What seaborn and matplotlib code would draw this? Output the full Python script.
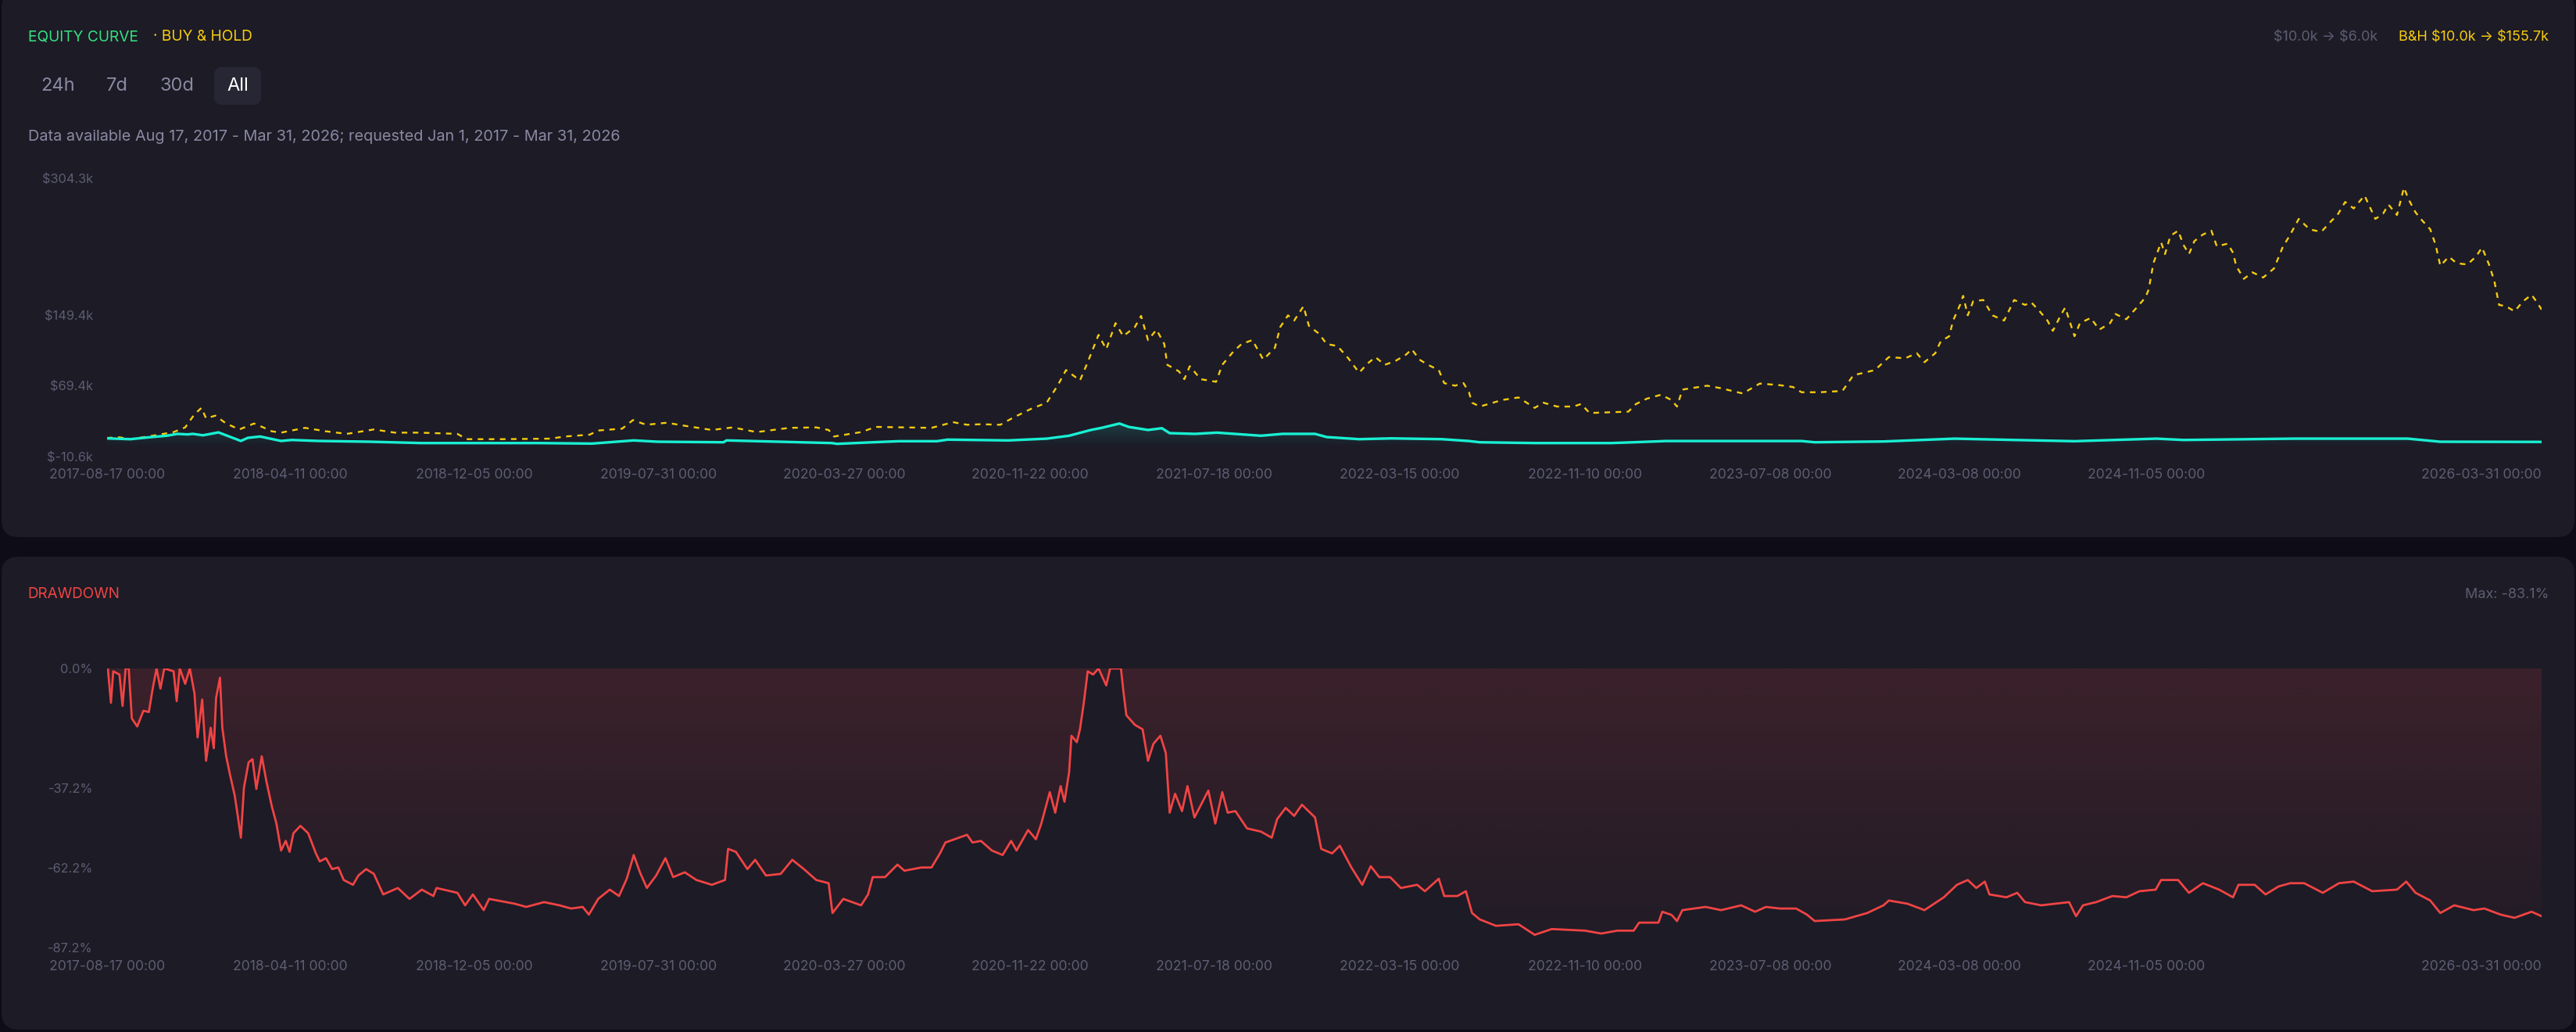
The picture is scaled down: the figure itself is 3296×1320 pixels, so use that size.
import numpy as np
import pandas as pd
import matplotlib
matplotlib.use("Agg")
import matplotlib.pyplot as plt
import matplotlib.dates as mdates
from matplotlib.colors import to_rgb
from matplotlib.patches import FancyBboxPatch
import seaborn as sns

START = pd.Timestamp("2017-08-17")
END = pd.Timestamp("2026-03-31")

# strategy equity ($k), sampled by day since start
equity_days = [0, 30, 54, 77, 91, 104, 111, 124, 134, 144, 173, 182, 198, 225, 239, 273, 340, 407,
               480, 558, 627, 681, 712, 797, 801, 937, 944, 990, 1024, 1073, 1087, 1165, 1215, 1244,
               1272, 1286, 1309, 1321, 1346, 1364, 1374, 1407, 1435, 1492, 1520, 1562, 1577, 1619,
               1661, 1726, 1761, 1775, 1846, 1945, 1974, 2016, 2085, 2191, 2208, 2297, 2389, 2466,
               2544, 2650, 2685, 2827, 2897, 2975, 3017, 3148]
equity_k = [10.0, 9.1, 11.2, 13.0, 15.1, 14.5, 15.1, 13.5, 15.1, 16.8, 7.1, 10.6, 12.1, 7.1, 8.2, 7.1, 6.2, 4.7,
            4.7, 4.7, 4.1, 7.7, 6.2, 5.6, 7.7, 4.7, 3.8, 5.6, 6.8, 6.8, 8.6, 7.7, 9.7, 13.0,
            19.5, 21.9, 26.8, 23.0, 19.5, 21.5, 15.9, 15.1, 16.5, 13.0, 15.1, 15.1, 11.5, 9.1,
            10.0, 9.1, 7.0, 5.6, 4.7, 4.7, 5.6, 7.0, 7.0, 7.0, 5.6, 6.5, 9.7, 8.2,
            6.8, 9.7, 8.2, 9.7, 9.7, 9.7, 6.2, 6.0]

# buy & hold ($k)
bh_days = [0, 1, 16, 31, 63, 86, 101, 113, 122, 128, 140, 154, 171, 190, 202, 213, 225, 256, 283, 310,
           345, 372, 403, 453, 465, 511, 573, 592, 624, 635, 666, 680, 697, 724, 743, 782, 809, 840,
           882, 917, 933, 940, 975, 994, 1037, 1066, 1094, 1112, 1130, 1155, 1172, 1194, 1215, 1229,
           1240, 1258, 1268, 1282, 1292, 1304, 1314, 1329, 1337, 1346, 1357, 1367, 1371, 1386, 1393,
           1400, 1414, 1434, 1442, 1456, 1467, 1481, 1495, 1510, 1517, 1527, 1535, 1547, 1554, 1567,
           1577, 1591, 1605, 1619, 1630, 1640, 1652, 1666, 1680, 1687, 1697, 1708, 1722, 1729, 1743,
           1754, 1761, 1765, 1775, 1804, 1825, 1846, 1857, 1875, 1896, 1906, 1917, 1945, 1967, 1977,
           1991, 2009, 2023, 2030, 2037, 2069, 2087, 2115, 2137, 2163, 2180, 2191, 2215, 2244, 2258,
           2286, 2304, 2325, 2340, 2350, 2364, 2371, 2382, 2387, 2396, 2400, 2406, 2413, 2426, 2438,
           2453, 2466, 2480, 2488, 2499, 2509, 2516, 2527, 2532, 2544, 2551, 2565, 2576, 2590, 2597,
           2611, 2626, 2636, 2640, 2643, 2646, 2656, 2661, 2668, 2678, 2685, 2692, 2699, 2710, 2721,
           2728, 2742, 2749, 2753, 2763, 2774, 2788, 2802, 2813, 2823, 2834, 2848, 2863, 2877, 2884,
           2894, 2905, 2919, 2933, 2943, 2950, 2961, 2970, 2976, 2985, 2992, 3004, 3011, 3017, 3028,
           3038, 3052, 3063, 3071, 3080, 3087, 3093, 3102, 3113, 3124, 3135, 3142, 3148]
bh_k = [10.0, 10.6, 11.2, 9.1, 13.6, 17.1, 22.4, 37.2, 44.5, 32.7, 35.7, 26.8, 20.1, 26.8, 22.4, 18.0, 16.5, 21.9, 18.0, 15.1,
        20.1, 16.5, 16.5, 15.1, 9.1, 9.1, 9.7, 12.1, 14.2, 18.9, 21.0, 30.7, 25.4, 27.7, 24.8, 19.5, 22.4, 17.1,
        21.9, 22.4, 19.5, 12.1, 17.1, 23.0, 22.4, 21.9, 28.3, 25.4, 26.0, 25.4, 33.6, 43.1, 50.4, 69.6,
        87.3, 75.5, 96.2, 127.1, 110.9, 140.4, 125.6, 136.0, 148.6, 121.2, 133.0, 116.8, 93.2, 85.8, 77.0,
        91.7, 77.0, 74.0, 93.2, 107.9, 116.8, 121.2, 99.1, 112.4, 136.0, 149.2, 143.3, 159.5, 137.4, 128.5,
        116.8, 114.4, 100.6, 84.3, 94.7, 102.0, 93.2, 97.6, 105.0, 110.9, 99.1, 93.2, 87.3, 72.5, 69.6,
        72.5, 62.2, 50.4, 46.0, 53.4, 56.3, 44.5, 50.4, 46.0, 46.0, 48.9, 38.7, 39.6, 40.2, 48.9,
        54.9, 59.3, 53.4, 46.0, 65.2, 69.6, 66.7, 60.8, 72.0, 70.2, 68.1, 62.2, 62.2, 63.7, 81.4,
        87.3, 102.0, 100.6, 106.4, 96.2, 106.4, 119.7, 125.6, 143.3, 161.0, 171.3, 149.2, 165.1, 166.6, 149.2,
        143.3, 166.6, 161.0, 164.0, 153.7, 143.3, 131.6, 150.7, 158.0, 125.6, 140.4, 146.3, 133.0, 140.4, 150.7,
        144.8, 159.5, 169.8, 178.7, 193.5, 208.2, 231.8, 218.5, 239.1, 245.0, 228.8, 218.5, 233.2, 240.6, 245.0,
        227.3, 230.3, 220.0, 205.2, 190.5, 197.9, 192.0, 202.3, 225.9, 240.6, 258.3, 246.5, 243.6, 256.8, 262.7,
        277.5, 270.1, 284.8, 258.3, 264.2, 274.5, 262.7, 293.7, 280.4, 265.7, 258.0, 246.5, 228.8, 205.2, 215.6,
        208.2, 206.7, 215.6, 225.9, 206.7, 187.5, 161.0, 159.5, 153.7, 165.1, 172.5, 164.0, 155.7]

# drawdown (%)
dd_days = [1, 5, 8, 16, 20, 24, 28, 32, 39, 47, 54, 59, 64, 69, 74, 86, 90, 94, 101, 107, 113, 117, 123, 128,
           134, 138, 141, 146, 149, 154, 159, 165, 169, 173, 177, 183, 188, 193, 200, 206, 213, 219, 225,
           231, 236, 241, 250, 260, 270, 275, 283, 291, 299, 306, 318, 325, 335, 345, 357, 376, 391, 407,
           422, 426, 453, 463, 473, 487, 494, 527, 542, 565, 585, 600, 615, 623, 635, 650, 662, 672, 681,
           689, 698, 710, 722, 732, 747, 762, 782, 799, 803, 813, 828, 838, 852, 871, 886, 901, 917, 933,
           938, 952, 975, 984, 990, 1006, 1022, 1031, 1053, 1066, 1077, 1084, 1112, 1119, 1130, 1144, 1158,
           1169, 1176, 1191, 1201, 1208, 1219, 1226, 1233, 1238, 1244, 1247, 1254, 1258, 1263, 1268, 1275,
           1282, 1292, 1297, 1311, 1314, 1318, 1329, 1339, 1346, 1353, 1362, 1369, 1374, 1381, 1390, 1397,
           1406, 1424, 1433, 1442, 1449, 1459, 1474, 1492, 1506, 1513, 1524, 1535, 1545, 1562, 1570, 1584,
           1594, 1609, 1623, 1634, 1645, 1659, 1673, 1694, 1704, 1722, 1729, 1746, 1757, 1765, 1775, 1796,
           1825, 1846, 1868, 1911, 1932, 1953, 1974, 1981, 2006, 2011, 2023, 2030, 2037, 2067, 2087, 2113,
           2131, 2145, 2163, 2184, 2198, 2208, 2247, 2276, 2297, 2304, 2328, 2350, 2375, 2392, 2406, 2417,
           2428, 2434, 2456, 2470, 2480, 2501, 2537, 2546, 2555, 2572, 2593, 2611, 2628, 2649, 2656, 2678,
           2692, 2710, 2731, 2749, 2756, 2777, 2791, 2808, 2823, 2841, 2865, 2886, 2905, 2929, 2961, 2973,
           2985, 3004, 3017, 3035, 3060, 3074, 3095, 3113, 3135, 3148]
dd_pct = [0.0, -10.7, -0.9, -1.9, -11.7, 0.0, 0.0, -15.6, -18.1, -13.2, -13.6, -6.3, 0.0, -6.3, 0.0, -0.9, -10.2, 0.0, -4.8, 0.0, -7.8, -21.5, -9.7, -28.8,
          -18.5, -24.9, -9.2, -2.9, -18.5, -27.4, -33.2, -39.6, -46.0, -52.8, -37.2, -29.3, -28.3, -37.6, -27.4, -35.2, -43.0, -48.4, -56.8,
          -53.8, -57.2, -51.4, -49.1, -51.4, -57.7, -60.2, -59.2, -62.6, -62.1, -66.0, -67.5, -64.6, -62.6, -64.1, -70.5, -68.5, -71.9, -69.0,
          -71.0, -68.5, -70.0, -73.9, -70.5, -75.4, -71.9, -73.4, -74.4, -72.9, -73.9, -74.9, -74.4, -76.8, -71.9, -69.0, -71.0, -65.6, -58.2,
          -63.6, -68.5, -64.6, -59.2, -65.1, -63.6, -66.0, -67.5, -66.0, -56.3, -57.2, -62.6, -59.7, -64.6, -64.1, -59.7, -62.6, -66.0, -67.0,
          -76.3, -71.9, -73.9, -70.5, -65.1, -65.1, -61.2, -63.1, -62.1, -62.1, -57.7, -54.3, -51.9, -54.3, -53.8, -56.8, -58.2,
          -53.8, -56.8, -50.4, -53.3, -48.4, -38.6, -45.0, -36.7, -41.6, -32.3, -21.0, -23.0, -19.0, -10.7, -0.9, -1.9,
          0.0, -5.3, 0.0, 0.0, -6.8, -14.6, -17.6, -19.0, -28.8, -23.5, -21.0, -26.4, -45.0, -39.1, -44.5, -36.7,
          -46.5, -38.1, -48.4, -38.6, -45.0, -44.5, -49.9, -50.9, -52.8, -47.0, -43.5, -46.0, -42.5, -46.5, -56.3, -57.7,
          -55.3, -62.1, -67.5, -61.7, -65.1, -65.1, -68.5, -67.5, -69.5, -65.6, -71.0, -71.0, -69.5, -76.3, -78.3, -80.3,
          -79.8, -83.1, -81.3, -81.8, -82.7, -81.8, -81.8, -79.3, -79.3, -75.9, -76.9, -78.8, -75.4, -74.4, -75.4, -73.9,
          -75.9, -74.4, -74.9, -74.9, -76.8, -78.8, -78.3, -76.3, -73.9, -72.4, -73.4, -75.4, -71.4, -67.5, -66.0, -68.5,
          -66.5, -70.5, -71.4, -70.0, -72.9, -73.9, -72.9, -77.3, -73.9, -72.9, -71.0, -71.4, -69.5, -69.0, -66.0, -66.0,
          -70.0, -67.0, -69.0, -71.4, -67.5, -67.5, -70.5, -68.0, -67.0, -67.0, -70.0, -67.0, -66.5, -69.5, -69.0, -66.5,
          -70.0, -72.4, -76.3, -73.9, -75.4, -74.9, -76.8, -77.8, -75.9, -77.3]

tick_dates = ["2017-08-17", "2018-04-11", "2018-12-05", "2019-07-31", "2020-03-27", "2020-11-22",
              "2021-07-18", "2022-03-15", "2022-11-10", "2023-07-08", "2024-03-08", "2024-11-05",
              "2026-03-31"]
equity_ticks = [-10.6, 69.4, 149.4, 304.3]
dd_ticks = [0.0, -37.2, -62.2, -87.2]

OUTER = "#0e0d17"
CARD = "#1c1b26"
PILL = "#272634"
MUTED = "#5e5d72"
SOFT = "#8a89a2"
GREEN = "#36e07f"
GOLD = "#f7cb0f"
CYAN = "#19efd2"
RED = "#f04444"

W, H = 3296, 1320


def to_dates(days):
    return START + pd.to_timedelta(days, unit="D")


def gradient_under(ax, x, y, base, color, a_top, a_bottom, y_top, y_bottom):
    poly = ax.fill_between(x, y, base, facecolor="none", edgecolor="none")
    grad = np.zeros((256, 1, 4))
    grad[:, 0, :3] = to_rgb(color)
    grad[:, 0, 3] = np.linspace(a_top, a_bottom, 256)
    xn = mdates.date2num(x.values)
    im = ax.imshow(grad, aspect="auto", origin="upper", zorder=1,
                   extent=[xn.min(), xn.max(), y_bottom, y_top])
    im.set_clip_path(poly.get_paths()[0], transform=ax.transData)


def fx(x):
    return x / W


def fy(y):
    return 1 - y / H


sns.set_theme(style="dark")
plt.rcParams["font.family"] = ["Inter", "DejaVu Sans"]

fig = plt.figure(figsize=(W / 100, H / 100), dpi=100, facecolor=OUTER)

# cards (pixel coords, origin bottom-left)
for x0, y0, w, h in [(2, H - 687, W - 4, 700), (2, 3, W - 4, 605)]:
    fig.patches.append(FancyBboxPatch((x0, y0), w, h, boxstyle="round,pad=0,rounding_size=22",
                                      transform=None, facecolor=CARD, edgecolor="none", zorder=-10))
fig.patches.append(FancyBboxPatch((274, H - 134), 60, 48, boxstyle="round,pad=0,rounding_size=10",
                                  transform=None, facecolor=PILL, edgecolor="none", zorder=-9))

eq = pd.DataFrame({"date": to_dates(equity_days), "value": equity_k})
bh = pd.DataFrame({"date": to_dates(bh_days), "value": bh_k})
dd = pd.DataFrame({"date": to_dates(dd_days), "value": dd_pct})

ax1 = fig.add_axes([fx(137), fy(584), fx(3252) - fx(137), fy(228) - fy(584)])
ax2 = fig.add_axes([fx(137), fy(1212.5), fx(3252) - fx(137), fy(855) - fy(1212.5)])

# equity panel
gradient_under(ax1, eq["date"], eq["value"], 0, CYAN, 0.16, 0.0, max(equity_k), 0)
sns.lineplot(data=bh, x="date", y="value", ax=ax1, color=GOLD, lw=1.7,
             linestyle=(0, (3, 3)), estimator=None, sort=False, zorder=3)
sns.lineplot(data=eq, x="date", y="value", ax=ax1, color=CYAN, lw=2.4,
             estimator=None, sort=False, zorder=4)
ax1.set_ylim(equity_ticks[0], equity_ticks[-1])
ax1.set_yticks(equity_ticks)
ax1.set_yticklabels([f"\\${v:.1f}k" for v in equity_ticks])

# drawdown panel
gradient_under(ax2, dd["date"], dd["value"], 0, RED, 0.15, 0.02, 0, dd_ticks[-1])
sns.lineplot(data=dd, x="date", y="value", ax=ax2, color=RED, lw=2.0,
             estimator=None, sort=False, zorder=4)
ax2.set_ylim(dd_ticks[-1], dd_ticks[0])
ax2.set_yticks(dd_ticks)
ax2.set_yticklabels([f"{v:.1f}%" for v in dd_ticks])

for ax in (ax1, ax2):
    ax.set_zorder(1)
    ax.patch.set_alpha(0)
    ax.grid(False)
    for s in ax.spines.values():
        s.set_visible(False)
    ax.set_xlim(START, END)
    ax.set_xticks(pd.to_datetime(tick_dates))
    labels = ax.set_xticklabels([d + " 00:00" for d in tick_dates])
    labels[-1].set_ha("right")
    ax.set_xlabel("")
    ax.set_ylabel("")
    ax.tick_params(axis="x", length=0, pad=11, labelsize=12.7, labelcolor=MUTED)
    ax.tick_params(axis="y", length=0, pad=13, labelsize=11.8, labelcolor=MUTED)

# header texts
fig.text(fx(36), fy(47.5), "EQUITY CURVE", color=GREEN, fontsize=13.8, va="center", ha="left")
fig.text(fx(196), fy(47.5), "· BUY & HOLD", color=GOLD, fontsize=13.8, va="center", ha="left")
fig.text(fx(3042), fy(47.5), "\\$10.0k → \\$6.0k", color=MUTED, fontsize=13, va="center", ha="right")
fig.text(fx(3261), fy(47.5), "B&H \\$10.0k → \\$155.7k", color=GOLD, fontsize=13, va="center", ha="right")

for label, x, c in [("24h", 52, SOFT), ("7d", 136, SOFT), ("30d", 204, SOFT), ("All", 290, "white")]:
    fig.text(fx(x), fy(110), label, color=c, fontsize=17, va="center", ha="left")

fig.text(fx(36), fy(175), "Data available Aug 17, 2017 - Mar 31, 2026; requested Jan 1, 2017 - Mar 31, 2026",
         color=SOFT, fontsize=14.3, va="center", ha="left")

fig.text(fx(35), fy(760), "DRAWDOWN", color=RED, fontsize=13.6, va="center", ha="left")
fig.text(fx(3261), fy(760), "Max: -83.1%", color=MUTED, fontsize=13, va="center", ha="right")

fig.savefig("out.png", dpi=100, facecolor=OUTER)
